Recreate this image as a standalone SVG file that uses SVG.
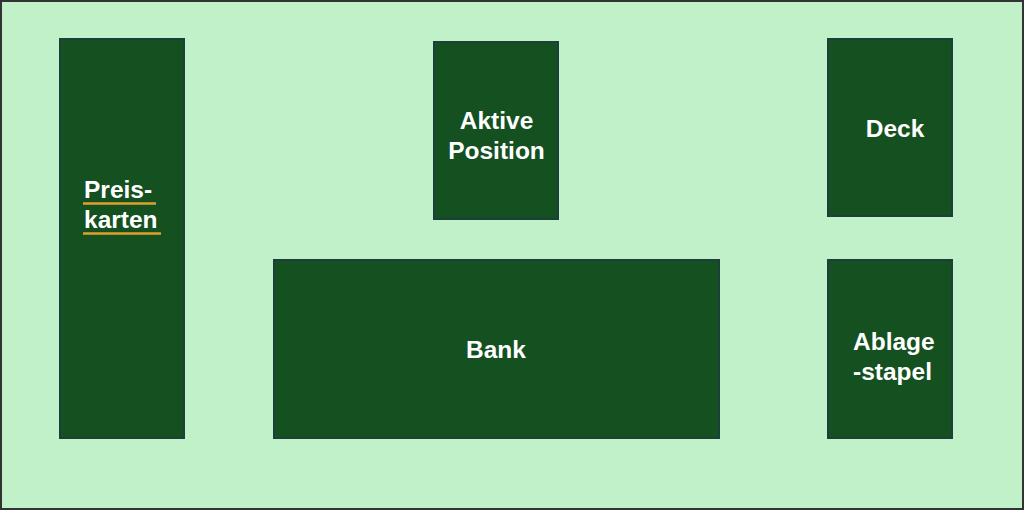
<svg xmlns="http://www.w3.org/2000/svg" width="1024" height="510" viewBox="0 0 1024 510">
<style>
.box{fill:#145020;stroke:#1d3f3c;stroke-width:2}
.t{font-family:"Liberation Sans",Arial,sans-serif;font-weight:bold;font-size:24.5px;fill:#ffffff}
.c{text-anchor:middle}
.ul{stroke:#e0a030;stroke-width:2.5}
</style>
<rect x="1" y="1" width="1022" height="508" fill="#c1f1c9" stroke="#333333" stroke-width="2"/>
<g id="preiskarten">
<rect class="box" x="60" y="39" width="124" height="399"/>
<text class="t" x="84" y="198">Preis-</text>
<line class="ul" x1="83" y1="203.5" x2="156" y2="203.5"/>
<text class="t" x="84" y="228">karten</text>
<line class="ul" x1="83" y1="233.5" x2="161" y2="233.5"/>
</g>
<g id="aktive-position">
<rect class="box" x="434" y="42" width="124" height="177"/>
<text class="t c" x="496.5" y="129">Aktive</text>
<text class="t c" x="496.5" y="159">Position</text>
</g>
<g id="deck">
<rect class="box" x="828" y="39" width="124" height="177"/>
<text class="t c" x="895" y="137">Deck</text>
</g>
<g id="bank">
<rect class="box" x="274" y="260" width="445" height="178"/>
<text class="t c" x="496" y="358">Bank</text>
</g>
<g id="ablagestapel">
<rect class="box" x="828" y="260" width="124" height="178"/>
<text class="t" x="853" y="350">Ablage</text>
<text class="t" x="853" y="380">-stapel</text>
</g>
<g id="connectors"></g>
</svg>
